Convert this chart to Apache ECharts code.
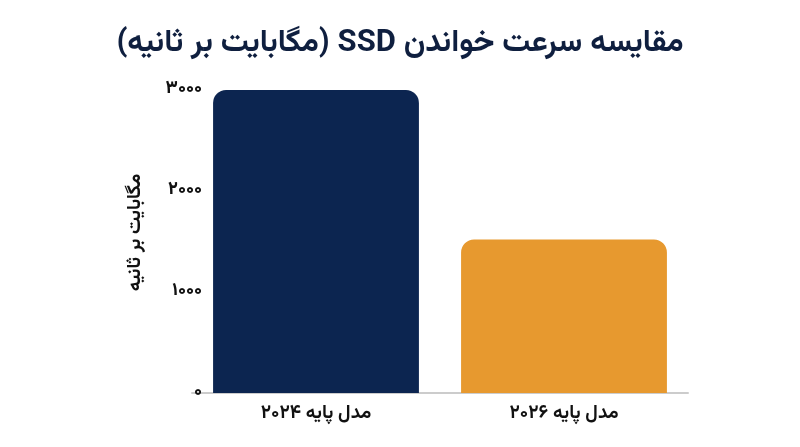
<!DOCTYPE html>
<html>
<head>
<meta charset="utf-8">
<script src="https://cdn.jsdelivr.net/npm/echarts@6/dist/echarts.min.js"></script>
<style>
html,body{margin:0;padding:0;background:#fff;}
#c{width:800px;height:447px;}
</style>
</head>
<body>
<div id="c" dir="rtl"></div>
<script>
const titleText = 'مقایسه سرعت خواندن SSD (مگابایت بر ثانیه)';
const yAxisName = 'مگابایت بر ثانیه';
const categories = ['مدل پایه ۲۰۲۴', 'مدل پایه ۲۰۲۶'];
const readSpeeds = [3000, 1520];
const barColors = ['#0c2550', '#e7992f'];
const yTickValues = [0, 1000, 2000, 3000];

const faDigits = '۰۱۲۳۴۵۶۷۸۹';
function toFa(n) { return String(n).replace(/[0-9]/g, d => faDigits[+d]); }
const RLE = '\u202B', PDF = '\u202C';

const FONT = 'Vazirmatn, "Noto Sans Arabic", "DejaVu Sans", sans-serif';
const chart = echarts.init(document.getElementById('c'));
chart.setOption({
  backgroundColor: '#ffffff',
  animation: false,
  title: {
    text: RLE + titleText + PDF,
    left: 'center',
    top: 26,
    textStyle: { fontFamily: FONT, fontSize: 31, fontWeight: 'bold', color: '#0f1f3f' }
  },
  grid: { left: 192, right: 112, top: 90, bottom: 54 },
  xAxis: {
    type: 'category',
    data: categories,
    axisLine: { show: true, lineStyle: { color: '#cccccc', width: 2 } },
    axisTick: { show: false },
    axisLabel: { fontFamily: FONT, fontSize: 19, fontWeight: 'bold', color: '#111111', margin: 13,
      formatter: v => RLE + v + PDF }
  },
  yAxis: {
    type: 'value',
    min: yTickValues[0],
    max: yTickValues[yTickValues.length - 1],
    interval: yTickValues[1] - yTickValues[0],
    name: RLE + yAxisName + PDF,
    nameLocation: 'middle',
    nameGap: 45,
    nameRotate: 90,
    nameTextStyle: { fontFamily: FONT, fontSize: 19, fontWeight: 'bold', color: '#111111', padding: [0, 0, 0, 18] },
    axisLine: { show: false },
    axisTick: { show: false },
    splitLine: { show: false },
    axisLabel: { fontFamily: FONT, fontSize: 18, fontWeight: 800, color: '#111111', margin: -10, formatter: v => toFa(v) }
  },
  series: [{
    type: 'bar',
    barCategoryGap: '17%',
    data: readSpeeds.map((v, i) => ({ value: v, itemStyle: { color: barColors[i] } })),
    itemStyle: { borderRadius: [13, 13, 0, 0] }
  }]
});
</script>
</body>
</html>
